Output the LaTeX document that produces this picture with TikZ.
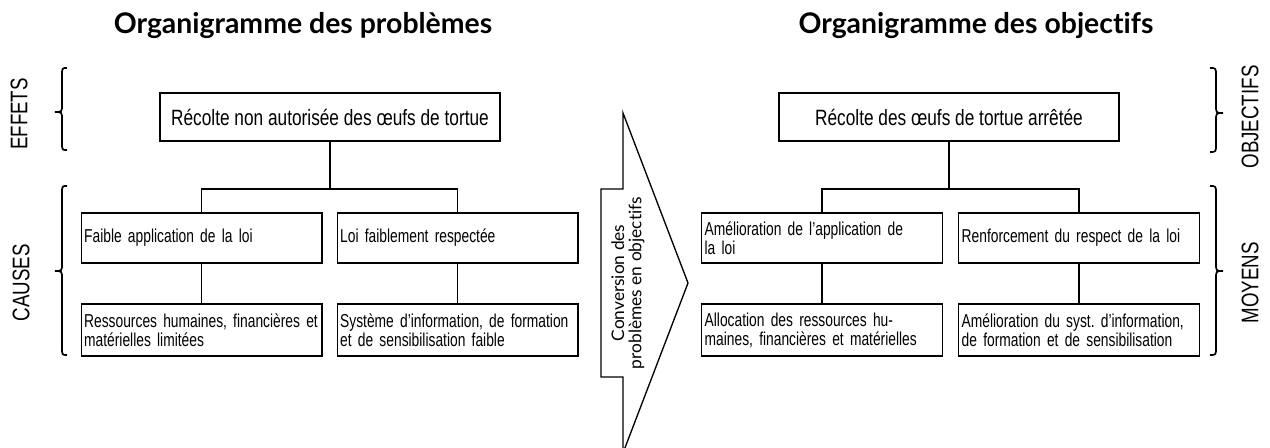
\documentclass[tikz,border=0pt]{standalone}
\usepackage{fontspec}
\setmainfont{Liberation Sans}
\newfontfamily\condf[FakeStretch=0.78]{Liberation Sans}
\newfontfamily\condb[FakeStretch=0.74]{Liberation Sans}
\newfontfamily\titlef[Ligatures=NoCommon]{Lato}
\begin{document}
\begin{tikzpicture}[x=0.75pt,y=-0.75pt,
  boxline/.style={line width=1.1pt},
  wire/.style={line width=1pt},
  box/.style={draw, boxline, inner xsep=2.2pt, inner ysep=0pt, align=left,
    font=\condb\fontsize{14}{14.2}\selectfont, text width=176pt, minimum height=#1},
  topbox/.style={draw, boxline, inner sep=0pt, align=center,
    font=\condf\fontsize{16.6}{17}\selectfont, minimum width=255pt, minimum height=36pt},
  side/.style={rotate=90, inner sep=0pt, font=\condf\fontsize{18}{18}\selectfont},
  ttl/.style={inner sep=0pt, font=\titlef\bfseries\fontsize{21.3}{22}\selectfont},
  brace/.style={line width=1.3pt}
]
\useasboundingbox (0,0) rectangle (1270,448);
\clip (0,0) rectangle (1270,448);

% titles
\node[ttl] (tl) at (303,26) {Organigramme des problèmes};
\node[ttl] (tr) at (976,26) {Organigramme des objectifs};

% side labels
\node[side] (effets) at (19,114) {EFFETS};
\node[side] (causes) at (21,283) {CAUSES};
\node[side] (objs) at (1250,117) {OBJECTIFS};
\node[side] (moyens) at (1250,283) {MOYENS};

% braces
\draw[brace] (67,68) .. controls (62,68) and (62,68) .. (62,76) -- (62,104)
  .. controls (62,112) and (62,112) .. (55,112) .. controls (62,112) and (62,112) .. (62,120)
  -- (62,142) .. controls (62,150) and (62,150) .. (67,150);
\draw[brace] (67,186) .. controls (62,186) and (62,186) .. (62,194) -- (62,263)
  .. controls (62,271) and (62,271) .. (55,271) .. controls (62,271) and (62,271) .. (62,279)
  -- (62,347) .. controls (62,355) and (62,355) .. (67,355);
\draw[brace] (1210,68) .. controls (1216,68) and (1216,68) .. (1216,76) -- (1216,105)
  .. controls (1216,113) and (1216,113) .. (1223,113) .. controls (1216,113) and (1216,113) .. (1216,121)
  -- (1216,144) .. controls (1216,152) and (1216,152) .. (1210,152);
\draw[brace] (1210,186) .. controls (1216,186) and (1216,186) .. (1216,194) -- (1216,263)
  .. controls (1216,271) and (1216,271) .. (1223,271) .. controls (1216,271) and (1216,271) .. (1216,279)
  -- (1216,347) .. controls (1216,355) and (1216,355) .. (1210,355);

% left chart
\node[topbox] (p0) at (330,117) {Récolte non autorisée des œufs de tortue};
\node[box=37.5pt] (p1) at (201.5,238) {Faible application de la loi};
\node[box=37.5pt] (p2) at (457.5,238) {Loi faiblement respectée};
\node[box=39pt] (p3) at (201.5,330) {Ressources humaines, financières et\\matérielles limitées};
\node[box=39pt] (p4) at (457.5,330) {Système d’information, de formation\\et de sensibilisation faible};
\coordinate (pj) at (330,189);
\draw[wire] (p0.south) -- (pj);
\draw[wire] (p1.north) |- (pj) -| (p2.north);
\draw[wire] (p1.south) -- (p3.north);
\draw[wire] (p2.south) -- (p4.north);

% right chart
\node[topbox] (o0) at (949,117) {Récolte des œufs de tortue arrêtée};
\node[box=37.5pt] (o1) at (822,238) {Amélioration de l’application de\\la loi};
\node[box=37.5pt] (o2) at (1079,238) {Renforcement du respect de la loi};
\node[box=39pt] (o3) at (822,330) {Allocation des ressources hu-\\maines, financières et matérielles};
\node[box=39pt] (o4) at (1079,330) {Amélioration du syst.\ d’information,\\de formation et de sensibilisation};
\coordinate (oj) at (949,189);
\draw[wire] (o0.south) -- (oj);
\draw[wire] (o1.north) |- (oj) -| (o2.north);
\draw[wire] (o1.south) -- (o3.north);
\draw[wire] (o2.south) -- (o4.north);

% conversion arrow
\draw[line width=1pt, line join=miter] (601,189) -- (623,189) -- (623,113) -- (688,283) -- (623,453)
  -- (623,377) -- (601,377) -- cycle;
\node[rotate=90, inner sep=0pt, align=center, font=\titlef\fontsize{13}{13}\selectfont] (conv) at (628,283)
  {Conversion des\\problèmes en objectifs};
\end{tikzpicture}
\end{document}
